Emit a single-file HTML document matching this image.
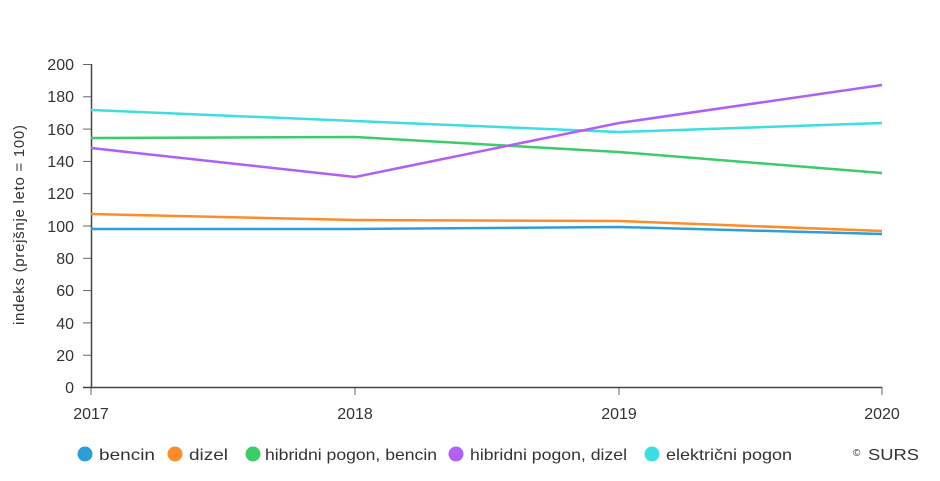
<!DOCTYPE html>
<html><head><meta charset="utf-8"><style>
body{margin:0;background:#fff;}
svg text{font-family:"Liberation Sans",sans-serif;fill:#333;}
</style></head><body>
<svg width="940" height="476" viewBox="0 0 940 476" xmlns="http://www.w3.org/2000/svg">
<g font-size="16" text-anchor="end">
<text x="74" y="70">200</text><text x="74" y="102">180</text><text x="74" y="135">160</text><text x="74" y="167">140</text><text x="74" y="199">120</text><text x="74" y="232">100</text><text x="74" y="264">80</text><text x="74" y="296">60</text><text x="74" y="329">40</text><text x="74" y="361">20</text><text x="74" y="393">0</text>
</g>
<g stroke="#666" stroke-width="1">
<line x1="83" y1="64.5" x2="91" y2="64.5"/><line x1="83" y1="96.8" x2="91" y2="96.8"/><line x1="83" y1="129.1" x2="91" y2="129.1"/><line x1="83" y1="161.4" x2="91" y2="161.4"/><line x1="83" y1="193.7" x2="91" y2="193.7"/><line x1="83" y1="226" x2="91" y2="226"/><line x1="83" y1="258.3" x2="91" y2="258.3"/><line x1="83" y1="290.6" x2="91" y2="290.6"/><line x1="83" y1="322.9" x2="91" y2="322.9"/><line x1="83" y1="355.2" x2="91" y2="355.2"/>
<line x1="91" y1="387" x2="91" y2="395"/><line x1="355" y1="387" x2="355" y2="395"/><line x1="619" y1="387" x2="619" y2="395"/><line x1="882" y1="387" x2="882" y2="395"/>
</g>
<line x1="91.5" y1="64" x2="91.5" y2="387" stroke="#444" stroke-width="1.5"/>
<line x1="83" y1="387.5" x2="882" y2="387.5" stroke="#444" stroke-width="1.5"/>
<text x="19" y="225" font-size="15" text-anchor="middle" textLength="200" transform="rotate(-90 19 225)" dy="5">indeks (prejšnje leto = 100)</text>
<g font-size="16" text-anchor="middle">
<text x="91" y="419">2017</text><text x="355" y="419">2018</text><text x="619" y="419">2019</text><text x="882" y="419">2020</text>
</g>
<g fill="none" stroke-width="2.5">
<polyline stroke="#3ddde3" points="91,110 355,121 619,132 882,123"/>
<polyline stroke="#3ccc6a" points="91,138 355,137 619,152 882,173"/>
<polyline stroke="#b060f5" points="91,148 355,177 619,123 882,85"/>
<polyline stroke="#ff8c2a" points="91,214 355,220 619,221 882,231"/>
<polyline stroke="#2b9fd6" points="91,229 355,229 619,227 882,234"/>
</g>
<g font-size="16">
<circle cx="85" cy="454" r="7.5" fill="#2b9fd6"/><text x="99" y="460" textLength="56" lengthAdjust="spacingAndGlyphs">bencin</text>
<circle cx="175" cy="454" r="7.5" fill="#ff8c2a"/><text x="189" y="460" textLength="39" lengthAdjust="spacingAndGlyphs">dizel</text>
<circle cx="253" cy="454" r="7.5" fill="#3ccc6a"/><text x="265" y="460" textLength="172" lengthAdjust="spacingAndGlyphs">hibridni pogon, bencin</text>
<circle cx="456" cy="454" r="7.5" fill="#b060f5"/><text x="470" y="460" textLength="157" lengthAdjust="spacingAndGlyphs">hibridni pogon, dizel</text>
<circle cx="652" cy="454" r="7.5" fill="#3ddde3"/><text x="666" y="460" textLength="126" lengthAdjust="spacingAndGlyphs">električni pogon</text>
<text x="853" y="456" font-size="10">©</text><text x="868" y="460" textLength="51" lengthAdjust="spacingAndGlyphs">SURS</text>
</g>
</svg>
</body></html>
